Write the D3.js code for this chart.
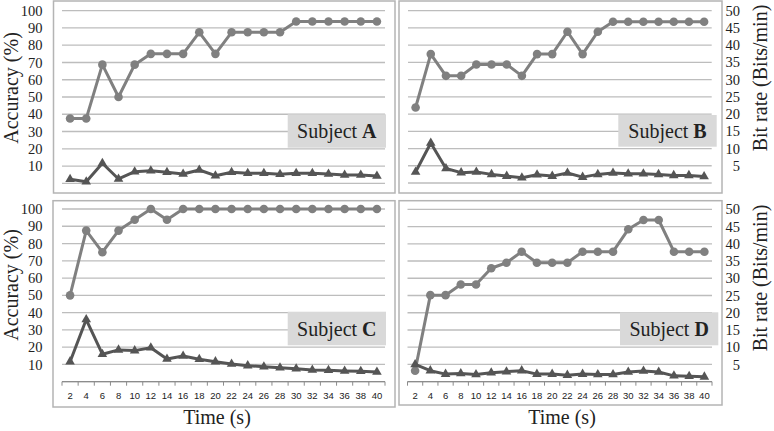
<!DOCTYPE html>
<html><head><meta charset="utf-8">
<script src="https://cdn.jsdelivr.net/npm/d3@7"></script>
<style>body{margin:0;background:#fff}svg{display:block}</style>
</head><body>
<svg id="c" width="774" height="431"></svg>
<script>
const times = [2,4,6,8,10,12,14,16,18,20,22,24,26,28,30,32,34,36,38,40];
const leftTicks = [10,20,30,40,50,60,70,80,90,100];
const rightTicks = [5,10,15,20,25,30,35,40,45,50];
const circA = [37.5,37.5,68.75,50,68.75,75,75,75,87.5,75,87.5,87.5,87.5,87.5,93.75,93.75,93.75,93.75,93.75,93.75];
const triA  = [2.3,0.9,11.6,2.5,6.7,7.3,6.4,5.4,7.7,4.4,6.4,5.8,5.8,5.2,5.8,5.8,5.4,4.8,4.8,4.2];
const circB = [21.9,37.4,31.1,31.1,34.4,34.4,34.4,31.1,37.4,37.4,43.9,37.4,43.9,46.8,46.8,46.8,46.8,46.8,46.8,46.8];
const triB  = [3.2,11.6,4.2,3.0,3.2,2.5,2.0,1.5,2.4,2.0,2.9,1.7,2.5,2.9,2.7,2.7,2.5,2.2,2.2,1.9];
const circC = [50,87.5,75,87.5,93.75,100,93.75,100,100,100,100,100,100,100,100,100,100,100,100,100];
const triC  = [11.6,36,15.9,18.4,18.0,19.7,13.1,14.9,13.0,11.6,10.2,9.3,8.7,8.1,7.5,6.8,6.6,6.2,6.0,5.6];
const circD = [3.2,25.1,25.1,28.2,28.2,32.9,34.5,37.7,34.5,34.5,34.5,37.7,37.7,37.7,44.2,46.9,46.9,37.7,37.7,37.7];
const triD  = [5.0,3.2,2.2,2.4,2.1,2.6,2.9,3.2,2.2,2.2,1.9,2.2,2.1,2.1,2.8,3.1,2.8,1.7,1.6,1.4];

const svg = d3.select("#c");
const SERIF = '"Liberation Serif", "Times New Roman", serif';
const SANS = '"Liberation Sans", Arial, sans-serif';

const panels = [
  {name:"A", circ:circA, tri:triA, max:100, ticks:leftTicks, side:"left",
   box:[53.5,1,395,193], x0:62, x1:385, yTop:10.7, yBot:183.3, axis:false, lab:[287.7,114.3,386,147.7]},
  {name:"B", circ:circB, tri:triB, max:50, ticks:rightTicks, side:"right",
   box:[399,1,722,193], x0:408, x1:711.7, yTop:10.7, yBot:183, axis:false, lab:[618.3,115,716.7,146.7]},
  {name:"C", circ:circC, tri:triC, max:100, ticks:leftTicks, side:"left",
   box:[53,200.7,395,407], x0:62, x1:385, yTop:209, yBot:381.7, axis:true, lab:[287.7,311.7,386,345.3]},
  {name:"D", circ:circD, tri:triD, max:50, ticks:rightTicks, side:"right",
   box:[399,200.7,722,405], x0:407.5, x1:712, yTop:209.3, yBot:381.7, axis:true, lab:[620,312.3,718.3,345.3]}
];

panels.forEach(p => {
  const g = svg.append("g");
  g.append("rect").attr("x",p.box[0]).attr("y",p.box[1])
    .attr("width",p.box[2]-p.box[0]).attr("height",p.box[3]-p.box[1])
    .attr("fill","#fff").attr("stroke","#b4b4b4").attr("stroke-width",1.5);
  const x = d3.scaleBand().domain(times).range([p.x0,p.x1]);
  const y = d3.scaleLinear().domain([0,p.max]).range([p.yBot,p.yTop]);
  g.selectAll("line.grid").data([0].concat(p.ticks)).enter().append("line")
    .attr("x1",p.x0).attr("x2",p.x1).attr("y1",d=>y(d)).attr("y2",d=>y(d))
    .attr("stroke","#bdbdbd").attr("stroke-width",1.3);
  g.selectAll("text.yt").data(p.ticks).enter().append("text")
    .style("font-family",SERIF)
    .attr("x", p.side==="left" ? 42.5 : 740)
    .attr("y", d=>y(d)).attr("dy","0.35em")
    .attr("text-anchor","end")
    .attr("font-size",14.5).attr("fill","#222")
    .text(d=>d);
  if (p.axis) {
    const ax = g.append("g").attr("transform",`translate(0,${p.yBot})`);
    const bounds = times.map(t=>x(t)).concat([p.x1]);
    ax.selectAll("line.tk").data(bounds).enter().append("line")
      .attr("x1",d=>d).attr("x2",d=>d).attr("y1",0).attr("y2",4)
      .attr("stroke","#8c8c8c").attr("stroke-width",1);
    ax.append("line").attr("x1",p.x0).attr("x2",p.x1).attr("y1",0).attr("y2",0)
      .attr("stroke","#8c8c8c").attr("stroke-width",1.2);
    ax.selectAll("text").data(times).enter().append("text")
      .attr("x",d=>x(d)+x.bandwidth()/2).attr("y",17)
      .attr("text-anchor","middle")
      .style("font-family",SANS).attr("font-size",9.5)
      .attr("fill","#222").text(d=>d);
  }
  const L = p.lab;
  g.append("rect").attr("x",L[0]).attr("y",L[1]).attr("width",L[2]-L[0]).attr("height",L[3]-L[1])
    .attr("fill","#d9d9d9");
  const t = g.append("text").style("font-family",SERIF).attr("x",(L[0]+L[2])/2).attr("y",(L[1]+L[3])/2).attr("dy","0.35em")
    .attr("text-anchor","middle").attr("font-size",20).attr("fill","#222");
  t.append("tspan").text("Subject ");
  t.append("tspan").attr("font-weight","bold").text(p.name);
  const cx = d => x(d)+x.bandwidth()/2;
  const line = d3.line().x((d,i)=>cx(times[i])).y(d=>y(d));
  g.append("path").datum(p.circ).attr("d",line).attr("fill","none")
    .attr("stroke","#808080").attr("stroke-width",3).attr("stroke-linejoin","round");
  g.selectAll("circle").data(p.circ).enter().append("circle")
    .attr("cx",(d,i)=>cx(times[i])).attr("cy",d=>y(d)).attr("r",4.3).attr("fill","#808080");
  g.append("path").datum(p.tri).attr("d",line).attr("fill","none")
    .attr("stroke","#555555").attr("stroke-width",3).attr("stroke-linejoin","round");
  const tri = d3.symbol().type(d3.symbolTriangle).size(40);
  g.selectAll("path.tri").data(p.tri).enter().append("path").attr("class","tri")
    .attr("d",tri).attr("fill","#555555")
    .attr("transform",(d,i)=>`translate(${cx(times[i])},${y(d)})`);
});

function vtitle(xp, yc, txt) {
  svg.append("text").style("font-family",SERIF).attr("transform",`translate(${xp},${yc}) rotate(-90)`)
    .attr("text-anchor","middle").attr("font-size",20)
    .attr("fill","#222").text(txt);
}
vtitle(18, 88, "Accuracy (%)");
vtitle(18, 285, "Accuracy (%)");
vtitle(767, 78, "Bit rate (Bits/min)");
vtitle(767, 278, "Bit rate (Bits/min)");
[[217,"Time (s)"],[562,"Time (s)"]].forEach(([xc,txt])=>{
  svg.append("text").style("font-family",SERIF).attr("x",xc).attr("y",424).attr("text-anchor","middle")
    .attr("font-size",20).attr("fill","#222").text(txt);
});
</script>
</body></html>
